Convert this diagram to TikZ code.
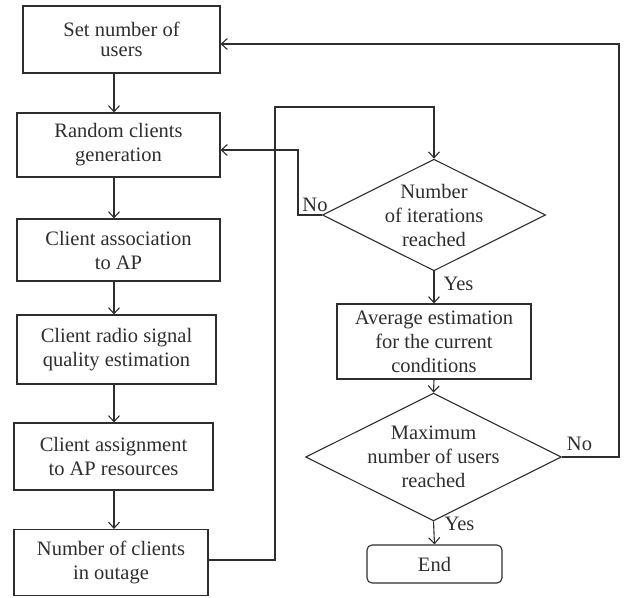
\documentclass[tikz,border=0pt]{standalone}
\usepackage{fontspec}
\setmainfont{Liberation Serif}
\usetikzlibrary{arrows.meta,shapes.geometric,calc}
\definecolor{ink}{HTML}{2E2E2E}
\tikzset{
  every node/.style={font=\fontsize{20.5}{24}\selectfont, text=ink},
  procbox/.style={draw=ink, line width=1.1pt, rectangle, align=center, inner sep=0pt},
  decbox/.style={draw=ink, line width=1.1pt, diamond, aspect=2, align=center, inner sep=0pt},
  endbox/.style={draw=ink, line width=1.1pt, rectangle, rounded corners=5pt, align=center, inner sep=0pt},
  conn/.style={draw=ink, line width=1.1pt, -{Straight Barb[length=6pt,width=11pt,line width=1.1pt]}},
  plainline/.style={draw=ink, line width=1.1pt},
  lbl/.style={inner sep=0pt}
}
\begin{document}
\begin{tikzpicture}[x=1pt,y=-1pt]
\useasboundingbox (0,0) rectangle (629,597);
\node[procbox, minimum width=197pt, minimum height=67pt, font=\fontsize{20.5}{20}\selectfont] (b1) at (121.5,39.5) {Set number of\\users};
\node[procbox, minimum width=203pt, minimum height=64pt] (b2) at (118.5,145) {Random clients\\generation};
\node[procbox, minimum width=203pt, minimum height=62pt] (b3) at (118.5,250) {Client association\\to AP};
\node[procbox, minimum width=199pt, minimum height=69pt] (b4) at (116.5,349.5) {Client radio signal\\quality estimation};
\node[procbox, minimum width=199pt, minimum height=67pt] (b5) at (113.5,456.5) {Client assignment\\to AP resources};
\node[procbox, minimum width=194pt, minimum height=66pt] (b6) at (111,562.5) {Number of clients\\in outage};
\node[decbox, minimum width=212pt, minimum height=106pt] (d1) at (434,215) {Number\\of iterations\\reached};
\node[procbox, minimum width=194pt, minimum height=75pt] (b7) at (434,341.5) {Average estimation\\for the current\\conditions};
\node[decbox, minimum width=213pt, minimum height=106pt] (d2) at (433.5,457) {Maximum\\number of users\\reached};
\node[endbox, minimum width=135pt, minimum height=38pt] (e) at (434.5,564) {End};

\coordinate (ax) at (114,0);
\draw[conn] (b1.south -| ax) -- (b2.north -| ax);
\draw[conn] (b2.south -| ax) -- (b3.north -| ax);
\draw[conn] (b3.south -| ax) -- (b4.north -| ax);
\draw[conn] (b4.south -| ax) -- (b5.north -| ax);
\draw[conn] (b5.south -| ax) -- (b6.north -| ax);

\coordinate (l1) at (275,560);
\coordinate (l2) at (275,107);
\draw[conn] (b6.east |- l1) -- (l1) -- (l2) -- (l2 -| d1.north) -- (d1.north);

\coordinate (n1) at (298,150);
\draw[conn] (d1.west) -- (d1.west -| n1) -- (n1) -- (b2.east |- n1);
\node[lbl] (no1) at (315,205) {No};

\draw[conn] (d1.south) -- (b7.north);
\node[lbl] (yes1) at (458.5,284) {Yes};

\draw[conn] (b7.south) -- (d2.north);

\coordinate (n2) at (619,44);
\draw[conn] (d2.east) -- (d2.east -| n2) -- (n2) -- (b1.east |- n2);
\node[lbl] (no2) at (579.5,444) {No};

\draw[conn] (d2.south) -- (e.north);
\node[lbl] (yes2) at (459.5,524) {Yes};
\end{tikzpicture}
\end{document}
